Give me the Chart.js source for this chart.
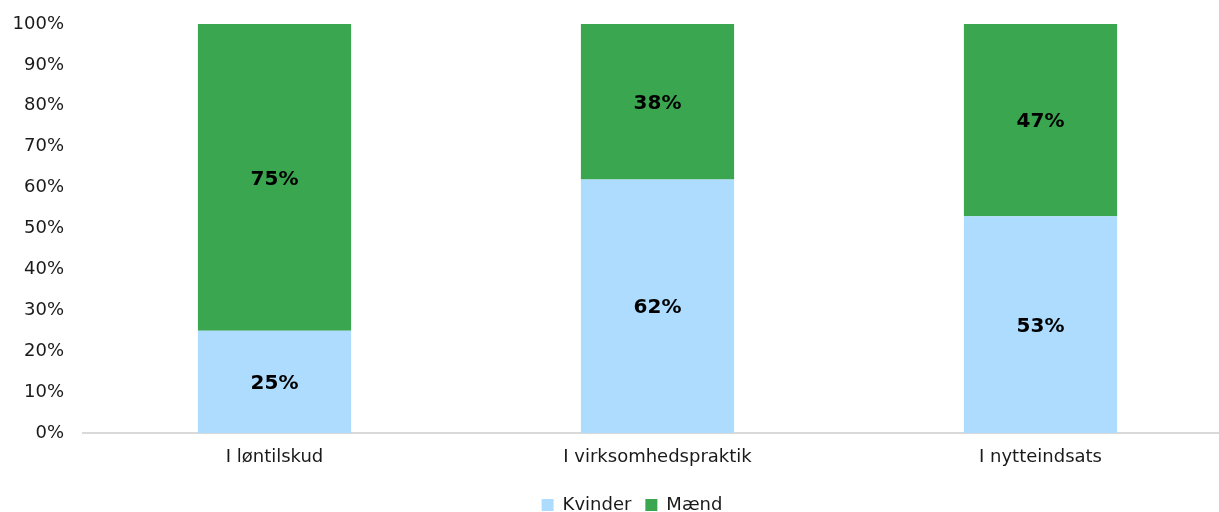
<!DOCTYPE html>
<html>
<head>
<meta charset="utf-8">
<script src="https://cdn.jsdelivr.net/npm/chart.js@4/dist/chart.umd.min.js"></script>
<style>
  html, body { margin: 0; padding: 0; background: #ffffff; overflow: hidden; }
  #wrap { width: 1232px; height: 512px; position: relative; }
</style>
</head>
<body>
<div id="wrap"><canvas id="chart"></canvas></div>
<script>
// Categories and shares (percent) per group
const categories = ['I løntilskud', 'I virksomhedspraktik', 'I nytteindsats'];
const kvinder = [25, 62, 53];
const maend = [75, 38, 47];
const seriesNames = ['Kvinder', 'Mænd'];
const yTicks = [0, 10, 20, 30, 40, 50, 60, 70, 80, 90, 100];

const FONT = '"DejaVu Sans", Verdana, sans-serif';

// Draws each segment's value, centred inside the bar segment
const valueLabels = {
  id: 'valueLabels',
  afterDatasetsDraw(chart) {
    const ctx = chart.ctx;
    ctx.save();
    ctx.font = 'bold 20px ' + FONT;
    ctx.fillStyle = '#000000';
    ctx.textAlign = 'center';
    ctx.textBaseline = 'middle';
    chart.data.datasets.forEach((ds, di) => {
      const meta = chart.getDatasetMeta(di);
      meta.data.forEach((el, i) => {
        const v = ds.data[i];
        ctx.fillText(v + '%', el.x, (el.y + el.base) / 2 + 2);
      });
    });
    ctx.restore();
  }
};

// Keeps the legend strip compact and centred a little right of the middle
const compactLegend = {
  id: 'compactLegend',
  beforeLayout(chart) {
    const lg = chart.legend;
    if (lg && !lg._compact) {
      const fit = lg.fit;
      lg.fit = function () { fit.call(this); this.height = 30; };
      lg._compact = true;
    }
  },
  afterLayout(chart) {
    const lg = chart.legend;
    if (lg) { lg.left += 16; lg.right += 16; }
  }
};

new Chart(document.getElementById('chart'), {
  type: 'bar',
  data: {
    labels: categories,
    datasets: [
      { label: seriesNames[0], data: kvinder, backgroundColor: '#addcfe', borderWidth: 0 },
      { label: seriesNames[1], data: maend, backgroundColor: '#3ba650', borderWidth: 0 }
    ]
  },
  options: {
    responsive: true,
    maintainAspectRatio: false,
    animation: false,
    layout: { padding: { top: 24, right: 0, bottom: 0, left: 0 } },
    datasets: { bar: { barPercentage: 0.4, categoryPercentage: 1.0 } },
    scales: {
      x: {
        stacked: true,
        afterFit(scale) { scale.height = 49; scale.paddingLeft = 0; scale.paddingRight = 0; },
        grid: { display: false, drawTicks: false },
        border: { display: true, color: '#d9d9d9', width: 2 },
        ticks: { color: '#1a1a1a', font: { family: FONT, size: 18 }, padding: 14 }
      },
      y: {
        stacked: true,
        min: 0,
        max: 100,
        afterFit(scale) { scale.width = 83; scale.paddingTop = 0; scale.paddingBottom = 0; },
        afterBuildTicks(scale) { scale.ticks = yTicks.map(v => ({ value: v })); },
        grid: { display: false, drawTicks: false },
        border: { display: false },
        ticks: {
          color: '#1a1a1a',
          font: { family: FONT, size: 18 },
          padding: 19,
          callback: v => v + '%'
        }
      }
    },
    plugins: {
      legend: {
        position: 'bottom',
        labels: {
          color: '#1a1a1a',
          font: { family: FONT, size: 18 },
          boxWidth: 12,
          boxHeight: 12,
          padding: 14
        }
      },
      tooltip: { enabled: false }
    }
  },
  plugins: [valueLabels, compactLegend]
});
</script>
</body>
</html>
